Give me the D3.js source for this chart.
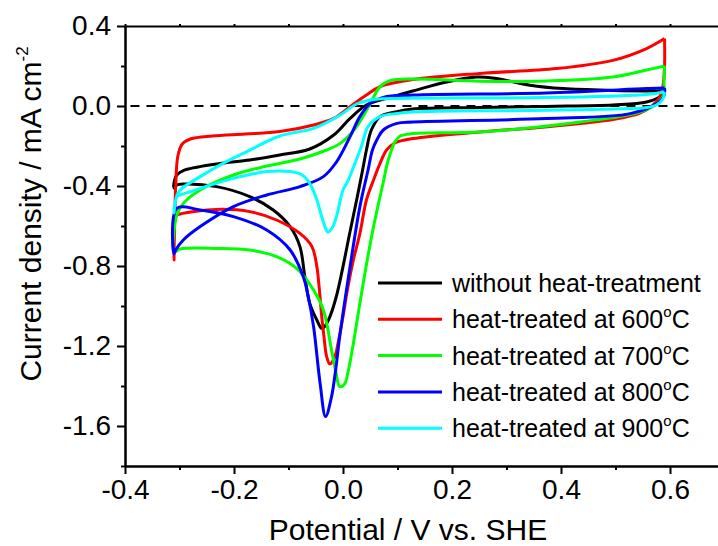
<!DOCTYPE html>
<html>
<head>
<meta charset="utf-8">
<script src="https://cdn.jsdelivr.net/npm/d3@7"></script>
<style>
  html, body { margin: 0; padding: 0; background: #fff; }
  svg { display: block; font-family: "Liberation Sans", Arial, sans-serif; }
</style>
</head>
<body>
<div id="chart"></div>
<script>
const width = 718;
const height = 546;

// potential (V vs. SHE), current density (mA cm-2), in scan order
const noHeat = [
  [0.59, 0.075], [0.585, 0.053], [0.557, 0.02], [0.495, 0.005], [0.373, -0.002], [0.251, -0.008],
  [0.128, -0.015], [0.099, -0.028], [0.068, -0.053], [0.052, -0.12], [0.043, -0.22], [0.036, -0.32],
  [0.025, -0.47], [0.012, -0.64], [0.0, -0.803], [-0.012, -0.95], [-0.024, -1.053], [-0.033, -1.1],
  [-0.039, -1.112], [-0.048, -1.07], [-0.061, -0.987], [-0.07, -0.853], [-0.079, -0.703], [-0.097, -0.603],
  [-0.128, -0.52], [-0.171, -0.453], [-0.232, -0.403], [-0.293, -0.39], [-0.305, -0.395], [-0.31, -0.41],
  [-0.309, -0.37], [-0.305, -0.345], [-0.293, -0.323], [-0.232, -0.29], [-0.171, -0.27], [-0.116, -0.245],
  [-0.061, -0.215], [-0.017, -0.145], [0.013, -0.062], [0.043, 0.005], [0.08, 0.038], [0.128, 0.075],
  [0.19, 0.12], [0.245, 0.145], [0.282, 0.137], [0.343, 0.104], [0.404, 0.087], [0.495, 0.078],
  [0.576, 0.075], [0.59, 0.075]
];

const heat600 = [
  [0.59, 0.337], [0.59, 0.2], [0.587, 0.1], [0.58, 0.04], [0.567, 0.0], [0.545, -0.035], [0.5, -0.065],
  [0.435, -0.088], [0.35, -0.11], [0.251, -0.13], [0.128, -0.163], [0.095, -0.185], [0.08, -0.22],
  [0.068, -0.287], [0.056, -0.37], [0.043, -0.47], [0.031, -0.637], [0.019, -0.77], [0.008, -0.92],
  [0.0, -1.053], [-0.008, -1.17], [-0.015, -1.253], [-0.024, -1.29], [-0.03, -1.253], [-0.035, -1.15],
  [-0.039, -1.053], [-0.044, -0.9], [-0.048, -0.803], [-0.057, -0.703], [-0.079, -0.637], [-0.122, -0.57],
  [-0.171, -0.528], [-0.232, -0.517], [-0.299, -0.54], [-0.306, -0.55], [-0.31, -0.77],
  [-0.309, -0.6], [-0.307, -0.4], [-0.303, -0.25], [-0.295, -0.19], [-0.28, -0.165], [-0.24, -0.15],
  [-0.18, -0.14], [-0.116, -0.128], [-0.054, -0.095], [-0.017, -0.062], [0.013, -0.003], [0.043, 0.055],
  [0.068, 0.097], [0.128, 0.132], [0.251, 0.163], [0.392, 0.187], [0.495, 0.228], [0.557, 0.287],
  [0.59, 0.337]
];

const heat700 = [
  [0.59, 0.2], [0.589, 0.12], [0.588, 0.053], [0.576, 0.012], [0.545, -0.03], [0.435, -0.08],
  [0.251, -0.13], [0.128, -0.138], [0.105, -0.15], [0.095, -0.18], [0.089, -0.22], [0.081, -0.29],
  [0.074, -0.38], [0.056, -0.603], [0.037, -0.887], [0.019, -1.187], [0.01, -1.32], [0.003, -1.39],
  [-0.006, -1.403], [-0.013, -1.33], [-0.021, -1.22], [-0.036, -1.02], [-0.054, -0.92], [-0.085, -0.812],
  [-0.122, -0.753], [-0.171, -0.72], [-0.232, -0.712], [-0.299, -0.715], [-0.31, -0.73],
  [-0.309, -0.6], [-0.305, -0.545], [-0.293, -0.487], [-0.262, -0.42], [-0.201, -0.345], [-0.14, -0.3],
  [-0.079, -0.265], [-0.03, -0.22], [-0.005, -0.187], [0.025, -0.103], [0.05, 0.013], [0.068, 0.097],
  [0.086, 0.127], [0.129, 0.135], [0.251, 0.124], [0.373, 0.125], [0.495, 0.145], [0.557, 0.18],
  [0.59, 0.2]
];

const heat800 = [
  [0.59, 0.09], [0.589, 0.05], [0.576, 0.012], [0.527, -0.038], [0.373, -0.063], [0.128, -0.08],
  [0.099, -0.087], [0.074, -0.12], [0.062, -0.17], [0.054, -0.22], [0.046, -0.32], [0.031, -0.503],
  [0.013, -0.803], [-0.006, -1.153], [-0.014, -1.33], [-0.021, -1.453], [-0.032, -1.553], [-0.042, -1.387],
  [-0.054, -1.103], [-0.064, -0.95], [-0.073, -0.853], [-0.097, -0.72], [-0.14, -0.62], [-0.201, -0.553],
  [-0.262, -0.52], [-0.305, -0.512], [-0.31, -0.74],
  [-0.307, -0.72], [-0.293, -0.67], [-0.262, -0.603], [-0.201, -0.503], [-0.14, -0.445], [-0.079, -0.403],
  [-0.036, -0.353], [-0.012, -0.28], [0.013, -0.153], [0.031, -0.053], [0.05, 0.013], [0.074, 0.043],
  [0.129, 0.055], [0.373, 0.065], [0.557, 0.087], [0.59, 0.09]
];

const heat900 = [
  [0.59, 0.07], [0.587, 0.035], [0.575, 0.005], [0.557, -0.008], [0.373, -0.021], [0.128, -0.03],
  [0.099, -0.037], [0.068, -0.053], [0.046, -0.103], [0.034, -0.2], [0.02, -0.3], [0.008, -0.38],
  [0.0, -0.42], [-0.012, -0.553], [-0.02, -0.61], [-0.028, -0.63], [-0.036, -0.58], [-0.048, -0.47],
  [-0.061, -0.387], [-0.075, -0.345], [-0.097, -0.328], [-0.14, -0.328], [-0.201, -0.362],
  [-0.262, -0.412], [-0.299, -0.445], [-0.305, -0.453], [-0.31, -0.535],
  [-0.309, -0.5], [-0.305, -0.45], [-0.299, -0.42], [-0.262, -0.353], [-0.22, -0.287], [-0.183, -0.237],
  [-0.116, -0.15], [-0.054, -0.112], [-0.005, -0.045], [0.025, 0.01], [0.05, 0.03], [0.099, 0.038],
  [0.373, 0.042], [0.557, 0.058], [0.59, 0.07]
];

const seriesLabels = ["without heat-treatment", "heat-treated at 600", "heat-treated at 700", "heat-treated at 800", "heat-treated at 900"];
const seriesColors = ["#000000", "#ff0000", "#00ff00", "#0000ff", "#00ffff"];
const seriesData = [noHeat, heat600, heat700, heat800, heat900];

const xTicks = [-0.4, -0.2, 0.0, 0.2, 0.4, 0.6];
const xMinorTicks = [-0.3, -0.1, 0.1, 0.3, 0.5, 0.7];
const yTicks = [0.4, 0.0, -0.4, -0.8, -1.2, -1.6];
const yMinorTicks = [0.2, -0.2, -0.6, -1.0, -1.4, -1.8];

const x = d3.scaleLinear().domain([-0.4, 0.7]).range([125, 724.5]);
const y = d3.scaleLinear().domain([-1.8, 0.4]).range([466, 26]);
const fmt = (d) => d.toFixed(1);

const svg = d3.select("#chart")
  .append("svg")
  .attr("width", width)
  .attr("height", height);

function styleAxis(g) {
  g.select(".domain").attr("stroke", "#000").attr("stroke-width", 2);
  g.selectAll(".tick line").attr("stroke", "#000").attr("stroke-width", 2);
  g.selectAll(".tick text").attr("fill", "#000").attr("font-size", 28)
    .attr("font-family", "'Liberation Sans', Arial, sans-serif");
}

// zero reference line
svg.append("line")
  .attr("x1", x(-0.39)).attr("x2", width)
  .attr("y1", y(0)).attr("y2", y(0))
  .attr("stroke", "#000").attr("stroke-width", 2)
  .attr("stroke-dasharray", "9,7");

const line = d3.line()
  .x((d) => x(d[0]))
  .y((d) => y(d[1]))
  .curve(d3.curveCatmullRom.alpha(0.5));

seriesData.forEach((data, i) => {
  svg.append("path")
    .datum(data)
    .attr("fill", "none")
    .attr("stroke", seriesColors[i])
    .attr("stroke-width", 3)
    .attr("stroke-linejoin", "round")
    .attr("d", line);
});

// axes
svg.append("g")
  .attr("transform", `translate(0,${y(-1.8)})`)
  .call(d3.axisBottom(x).tickValues(xTicks).tickSize(8).tickSizeOuter(0).tickPadding(5).tickFormat(fmt))
  .call(styleAxis);

svg.append("g")
  .attr("transform", `translate(0,${y(-1.8)})`)
  .call(d3.axisBottom(x).tickValues(xMinorTicks).tickSize(4).tickSizeOuter(0).tickFormat(""))
  .call(styleAxis);

svg.append("g")
  .attr("transform", `translate(${x(-0.4)},0)`)
  .call(d3.axisLeft(y).tickValues(yTicks).tickSize(8).tickSizeOuter(0).tickPadding(6).tickFormat(fmt))
  .call(styleAxis);

svg.append("g")
  .attr("transform", `translate(${x(-0.4)},0)`)
  .call(d3.axisLeft(y).tickValues(yMinorTicks).tickSize(4).tickSizeOuter(0).tickFormat(""))
  .call(styleAxis);

svg.append("g")
  .attr("transform", `translate(0,${y(0.4)})`)
  .call(d3.axisTop(x).tickValues(xTicks.concat(xMinorTicks)).tickSize(2).tickSizeOuter(0).tickFormat(""))
  .call(styleAxis);

// axis titles
svg.append("text")
  .attr("x", 408)
  .attr("y", 540)
  .attr("text-anchor", "middle")
  .attr("font-size", 30)
  .attr("fill", "#000")
  .text("Potential / V vs. SHE");

const yTitle = svg.append("text")
  .attr("transform", "translate(41,214) rotate(-90)")
  .attr("text-anchor", "middle")
  .attr("font-size", 30)
  .attr("fill", "#000");
yTitle.append("tspan").text("Current density / mA cm");
yTitle.append("tspan").attr("font-size", 17).attr("dy", -13).text("-2");

// legend
const legend = svg.append("g");
seriesLabels.forEach((label, i) => {
  const ly = 283 + i * 36.3;
  legend.append("line")
    .attr("x1", 378).attr("x2", 442)
    .attr("y1", ly).attr("y2", ly)
    .attr("stroke", seriesColors[i])
    .attr("stroke-width", 3);
  const t = legend.append("text")
    .attr("x", 452)
    .attr("y", ly + 9)
    .attr("font-size", 25)
    .attr("fill", "#000");
  t.append("tspan").text(label);
  if (i > 0) {
    t.append("tspan").attr("font-size", 15).attr("dy", -11).text("o");
    t.append("tspan").attr("dy", 11).text("C");
  }
});
</script>
</body>
</html>
